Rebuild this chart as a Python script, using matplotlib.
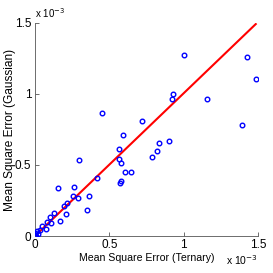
import matplotlib
matplotlib.use("Agg")
import matplotlib.pyplot as plt
import numpy as np

plt.rcParams['font.family'] = ['Liberation Sans', 'DejaVu Sans']

# values in units of 1e-3
ternary = [1.002, 1.426, 1.486, 0.928, 0.921, 1.157, 0.720, 1.392, 0.451, 0.592,
           0.565, 0.901, 0.834, 0.820, 0.787, 0.565, 0.578, 0.605, 0.646, 0.578,
           0.572, 0.296, 0.417, 0.262, 0.155, 0.256, 0.289, 0.363, 0.350, 0.215,
           0.195, 0.208, 0.168, 0.128, 0.101, 0.081, 0.108, 0.074, 0.047, 0.034,
           0.013, 0.003, 0.001, 0.006, 0.020]
gaussian = [1.275, 1.261, 1.106, 1.000, 0.965, 0.965, 0.810, 0.782, 0.866, 0.711,
            0.613, 0.669, 0.655, 0.599, 0.556, 0.542, 0.514, 0.451, 0.451, 0.387,
            0.373, 0.535, 0.408, 0.345, 0.338, 0.282, 0.268, 0.282, 0.183, 0.232,
            0.211, 0.155, 0.106, 0.162, 0.134, 0.099, 0.092, 0.049, 0.070, 0.042,
            0.035, 0.021, 0.007, 0.001, 0.014]
fit_x = [0.0, 1.485]
fit_y = [0.0, 1.492]

x = np.array(ternary) * 1e-3
y = np.array(gaussian) * 1e-3

fig = plt.figure(figsize=(2.73, 2.73), dpi=100)
ax = fig.add_axes([0.128, 0.1355, 0.817, 0.7805])
ax.plot(x, y, 'o', markerfacecolor='none', markeredgecolor='#0000ff',
        markersize=3.3, markeredgewidth=1.0, zorder=3)
ax.plot(np.array(fit_x) * 1e-3, np.array(fit_y) * 1e-3, color='#ff0000', lw=1.5, zorder=2)

ax.set_xlim(0, 1.5e-3)
ax.set_ylim(0, 1.5e-3)
ticks = [0, 0.5e-3, 1e-3, 1.5e-3]
ax.set_xticks(ticks)
ax.set_yticks(ticks)
ax.set_xticklabels(['0', '0.5', '1', '1.5'])
ax.set_yticklabels(['0', '0.5', '1', '1.5'])
for s in ['top', 'right']:
    ax.spines[s].set_visible(False)
for s in ['left', 'bottom']:
    ax.spines[s].set_color('#555555')
    ax.spines[s].set_linewidth(0.6)
ax.tick_params(direction='in', length=3, width=0.6, color='#555555', labelsize=8.5, pad=2.5)
ax.set_xlabel('Mean Square Error (Ternary)', fontsize=7.6)
ax.xaxis.set_label_coords(0.5, -0.08)
ax.set_ylabel('Mean Square Error (Gaussian)', fontsize=8.6)
ax.yaxis.set_label_coords(-0.085, 0.5)
ax.text(0.0, 1.023, r'x 10$^{-3}$', transform=ax.transAxes, fontsize=7, ha='left', va='baseline')
ax.text(1.0, -0.136, r'x 10$^{-3}$', transform=ax.transAxes, fontsize=7.5, ha='right', va='baseline')
fig.savefig('out.png', dpi=100)
